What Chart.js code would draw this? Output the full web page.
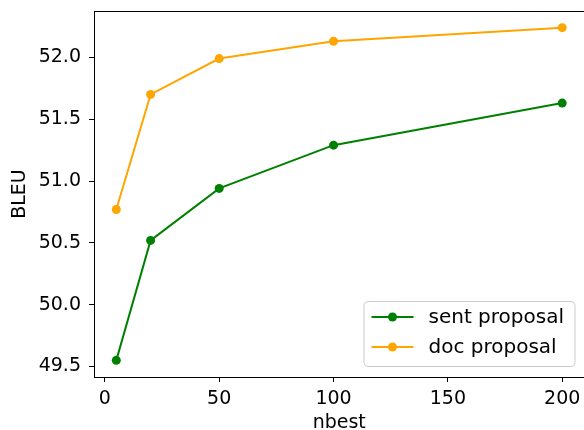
<!DOCTYPE html>
<html>
<head>
<meta charset="utf-8">
<script src="https://cdn.jsdelivr.net/npm/chart.js@4"></script>
<style>
  html, body { margin: 0; padding: 0; background: #fff; overflow: hidden; }
  /* a little wider than the window so the right spine falls just outside, as in the original */
  #wrap { width: 589px; height: 430px; position: relative; }
</style>
</head>
<body>
<div id="wrap"><canvas id="myChart"></canvas></div>
<script>
const nbest = [5, 20, 50, 100, 200];
const sentProposal = [49.55, 50.52, 50.94, 51.29, 51.63];
const docProposal = [50.77, 51.70, 51.99, 52.13, 52.24];
const seriesNames = ['sent proposal', 'doc proposal'];
const xTicks = [0, 50, 100, 150, 200];
const yTicks = [49.5, 50.0, 50.5, 51.0, 51.5, 52.0];

const FONT = "'DejaVu Sans', sans-serif";

function toPoints(vals) {
    return nbest.map((x, i) => ({ x: x, y: vals[i] }));
}

// matplotlib style 5% margins
const xSpan = nbest[nbest.length - 1] - nbest[0];
const allY = sentProposal.concat(docProposal);
const yLo = Math.min(...allY), yHi = Math.max(...allY);
const ySpan = yHi - yLo;

// top spine + legend box like matplotlib
const framePlugin = {
    id: 'frame',
    afterDraw(chart) {
        const ctx = chart.ctx;
        const a = chart.chartArea;
        ctx.save();
        ctx.strokeStyle = '#000';
        ctx.lineWidth = 1;
        ctx.beginPath();
        ctx.moveTo(a.left, a.top + 0.5);
        ctx.lineTo(a.right, a.top + 0.5);
        ctx.stroke();

        // legend
        const bx = a.right - 221, by = a.bottom - 76, bw = 211, bh = 65;
        ctx.fillStyle = 'rgba(255,255,255,0.8)';
        ctx.strokeStyle = '#cccccc';
        ctx.beginPath();
        ctx.roundRect(bx + 0.5, by + 0.5, bw, bh, 4);
        ctx.fill();
        ctx.stroke();
        chart.data.datasets.forEach((ds, i) => {
            const cy = by + 16 + i * 30;
            ctx.strokeStyle = ds.borderColor;
            ctx.lineWidth = 2;
            ctx.beginPath();
            ctx.moveTo(bx + 8, cy);
            ctx.lineTo(bx + 50, cy);
            ctx.stroke();
            ctx.fillStyle = ds.borderColor;
            ctx.beginPath();
            ctx.arc(bx + 29, cy, 4.5, 0, Math.PI * 2);
            ctx.fill();
            ctx.fillStyle = '#000';
            ctx.font = '20px ' + FONT;
            ctx.textBaseline = 'middle';
            ctx.textAlign = 'left';
            ctx.fillText(ds.label, bx + 65, cy + 1);
        });
        ctx.restore();
    }
};

new Chart(document.getElementById('myChart'), {
    type: 'line',
    data: {
        datasets: [{
            label: seriesNames[0],
            data: toPoints(sentProposal),
            borderColor: '#008000',
            backgroundColor: '#008000',
            borderWidth: 2,
            pointRadius: 4.5,
            pointHoverRadius: 4.5,
            pointBorderWidth: 0,
            tension: 0
        }, {
            label: seriesNames[1],
            data: toPoints(docProposal),
            borderColor: '#ffa500',
            backgroundColor: '#ffa500',
            borderWidth: 2,
            pointRadius: 4.5,
            pointHoverRadius: 4.5,
            pointBorderWidth: 0,
            tension: 0
        }]
    },
    options: {
        responsive: true,
        maintainAspectRatio: false,
        animation: false,
        layout: { padding: { top: 11, left: 0, right: 0, bottom: 0 } },
        plugins: {
            legend: { display: false },
            tooltip: { enabled: false }
        },
        scales: {
            x: {
                type: 'linear',
                min: nbest[0] - xSpan * 0.05,
                max: nbest[nbest.length - 1] + xSpan * 0.05,
                afterFit(scale) {
                    scale.height = 53;
                    scale.paddingLeft = 0;
                    scale.paddingRight = 0;
                },
                afterBuildTicks(scale) { scale.ticks = xTicks.map(v => ({ value: v })); },
                grid: { display: true, drawOnChartArea: false, drawTicks: true, tickLength: 5, color: '#000' },
                border: { color: '#000', width: 1 },
                ticks: {
                    color: '#000',
                    font: { family: FONT, size: 19 },
                    padding: 6,
                    maxRotation: 0,
                    callback: v => String(v)
                },
                title: {
                    display: true,
                    text: 'nbest',
                    color: '#000',
                    font: { family: FONT, size: 19, lineHeight: 1.0 },
                    padding: { top: 0, bottom: -3 }
                }
            },
            y: {
                min: yLo - ySpan * 0.05,
                max: yHi + ySpan * 0.05,
                afterFit(scale) {
                    scale.width = 94;
                    scale.paddingTop = 0;
                    scale.paddingBottom = 0;
                },
                afterBuildTicks(scale) { scale.ticks = yTicks.map(v => ({ value: v })); },
                grid: { display: true, drawOnChartArea: false, drawTicks: true, tickLength: 5, color: '#000' },
                border: { color: '#000', width: 1 },
                ticks: {
                    color: '#000',
                    font: { family: FONT, size: 19 },
                    padding: 8,
                    callback: v => v.toFixed(1)
                },
                title: {
                    display: true,
                    text: 'BLEU',
                    color: '#000',
                    font: { family: FONT, size: 19 },
                    padding: { top: 9, bottom: 0 }
                }
            }
        }
    },
    plugins: [framePlugin]
});
</script>
</body>
</html>
